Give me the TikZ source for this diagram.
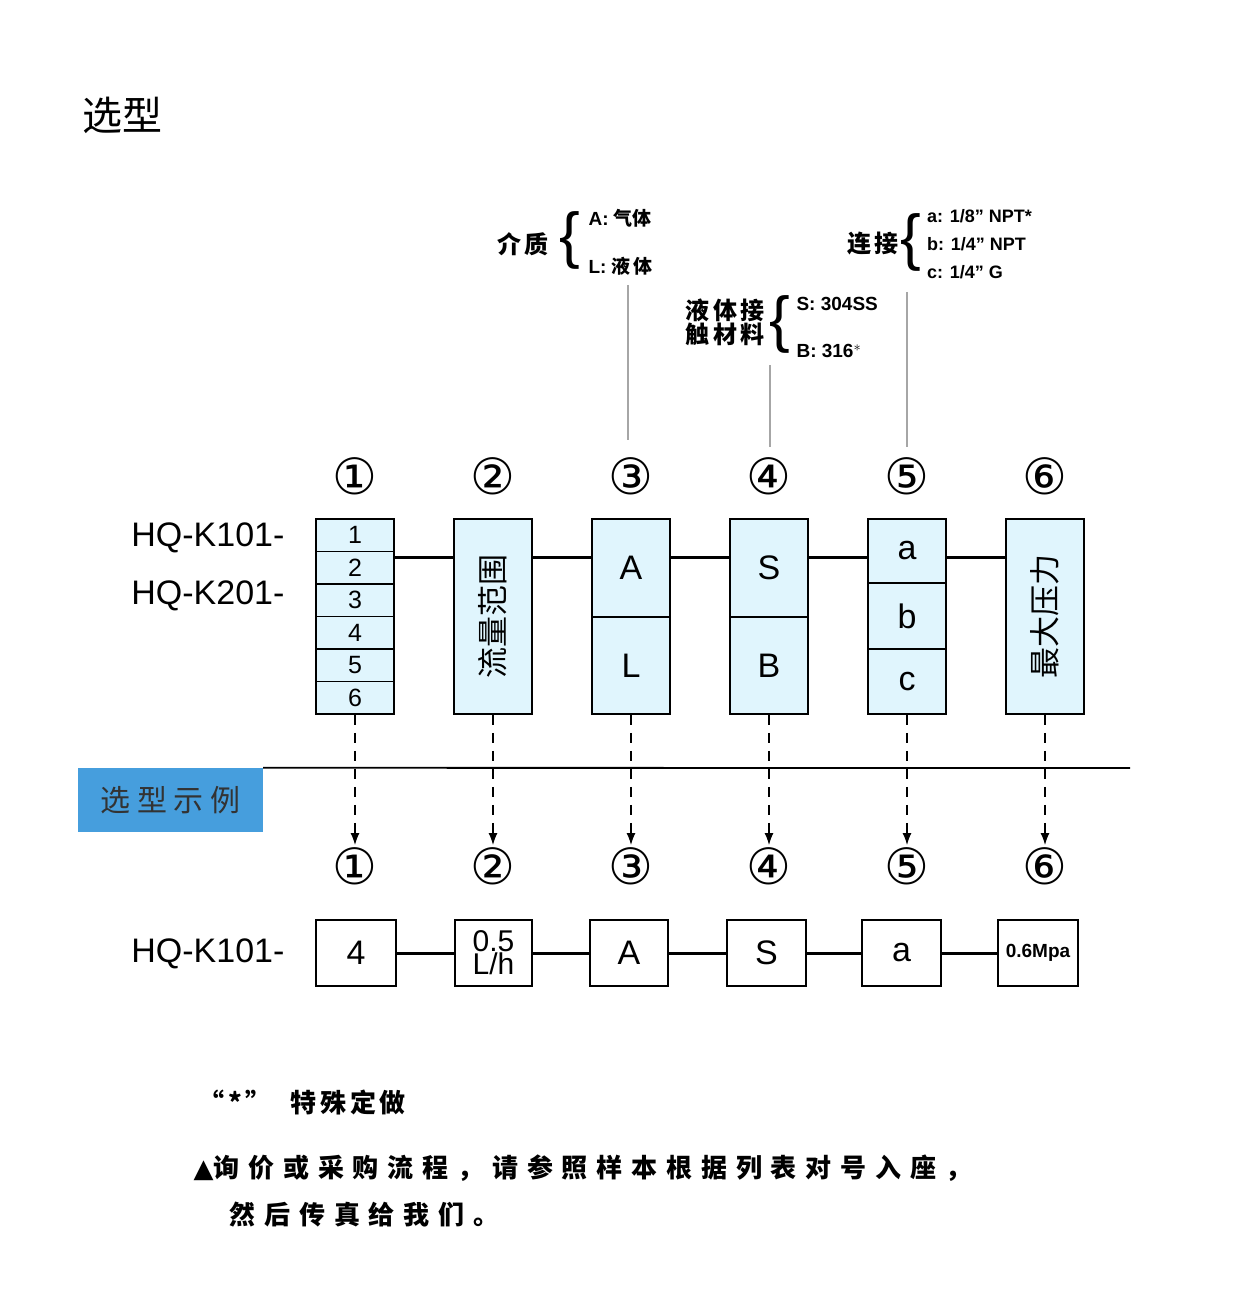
\documentclass[tikz,border=0pt]{standalone}
\usepackage{fontspec}
\setmainfont{Liberation Sans}
\newfontfamily\cjk{Noto Sans CJK SC}
\newfontfamily\cjks[LetterSpace=14]{Noto Sans CJK SC}
\newfontfamily\cjkw[LetterSpace=34]{Noto Sans CJK SC}
\newfontfamily\djv{DejaVu Sans}
\usetikzlibrary{arrows.meta}
\begin{document}
\begin{tikzpicture}[x=1pt,y=-1pt,
 bx/.style={draw,line width=1.6pt,fill=cyan!12!white},
 wb/.style={draw,line width=1.6pt,fill=white},
 cn/.style={font=\djv\fontsize{50}{50}\selectfont},
 lbl/.style={font=\fontsize{34}{34}\selectfont},
 sm/.style={font=\bfseries\fontsize{19}{19}\selectfont,anchor=west},
 ck/.style={font=\cjks\bfseries\fontsize{24}{24}\selectfont},
 gl/.style={draw=gray!70,line width=1.5pt},
 da/.style={dashed,dash pattern=on 10pt off 8pt,line width=1.2pt,-{Latex[length=12pt,width=9pt]}}]
\useasboundingbox (0,0) rectangle (1241,1313);
\node[font=\cjk\fontsize{40}{40}\selectfont] (title) at (122,115) {选型};
% top annotations
\node[ck,anchor=east] (med) at (552,244) {介质};
\node[font=\fontsize{62}{62}\selectfont] (br1) at (570,240) {\{};
\node[sm] (a1) at (585,218) {A: {\cjk 气体}};
\node[sm] (l1) at (585,266) {L: {\cjks 液体}};
\node[ck,anchor=east,align=center] (mat) at (768,322) {液体接\\触材料};
\node[font=\fontsize{62}{62}\selectfont] (br2) at (780,324) {\{};
\node[sm] (s1) at (793,304) {S: 304SS};
\node[sm] (b1) at (793,351) {B: 316$^{*}$};
\node[ck,anchor=east] (con) at (902,244) {连接};
\node[font=\fontsize{62}{62}\selectfont] (br3) at (911,242) {\{};
\node[sm,font=\bfseries\fontsize{18}{18}\selectfont,inner sep=1pt] (ca) at (926,216) {a: 1/8" NPT*};
\node[sm,font=\bfseries\fontsize{18}{18}\selectfont,inner sep=1pt] (cb) at (926,244) {b: 1/4" NPT};
\node[sm,font=\bfseries\fontsize{18}{18}\selectfont,inner sep=1pt] (cc) at (926,272) {c: 1/4" G};
\coordinate (g3) at (628,285); \coordinate (g4) at (770,365); \coordinate (g5) at (907,292);
\coordinate (h3) at (628,440); \coordinate (h4) at (770,447); \coordinate (h5) at (907,447);
\draw[gl] (g3)--(h3); \draw[gl] (g4)--(h4); \draw[gl] (g5)--(h5);
% circled numbers
\foreach \i/\x in {1/355,2/493,3/631,4/769,5/907,6/1045}{
 \node[cn] (t\i) at (\x,476) {\ifcase\i\or①\or②\or③\or④\or⑤\or⑥\fi};
 \node[cn] (u\i) at (\x,866) {\ifcase\i\or①\or②\or③\or④\or⑤\or⑥\fi};}
\node[font=\fontsize{34}{34}\selectfont,anchor=east] (m1) at (288,538) {HQ-K101-};
\node[font=\fontsize{34}{34}\selectfont,anchor=east] (m2) at (288,596) {HQ-K201-};
% connecting line
\draw[line width=3pt] (394,557) -- (1007,557);
% box1
\foreach \k in {0,...,5}{
 \node[bx,minimum width=78pt,minimum height=32.5pt,inner sep=0pt,font=\fontsize{25}{25}\selectfont] (r\k) at (355,{535.25+32.5*\k}) {\the\numexpr\k+1\relax};}
\node[bx,minimum width=78pt,minimum height=195pt] (b2) at (493,616.5) {};
\node[rotate=90,font=\cjk\fontsize{31}{31}\selectfont] at (b2) {流量范围};
\node[bx,minimum width=78pt,minimum height=98pt,lbl] (b3a) at (631,568) {A};
\node[bx,minimum width=78pt,minimum height=97pt,lbl] (b3b) at (631,665.5) {L};
\node[bx,minimum width=78pt,minimum height=98pt,lbl] (b4a) at (769,568) {S};
\node[bx,minimum width=78pt,minimum height=97pt,lbl] (b4b) at (769,665.5) {B};
\node[bx,minimum width=78pt,minimum height=64pt,lbl] (b5a) at (907,551) {a};
\node[bx,minimum width=78pt,minimum height=66pt,lbl] (b5b) at (907,616) {b};
\node[bx,minimum width=78pt,minimum height=65pt,lbl] (b5c) at (907,681.5) {c};
\node[bx,minimum width=78pt,minimum height=195pt] (b6) at (1045,616.5) {};
\node[rotate=90,font=\cjk\fontsize{31}{31}\selectfont] at (b6) {最大压力};
% dashed arrows
\draw[da] (r5.south) -- (355,845);
\draw[da] (b2.south) -- (493,845);
\draw[da] (b3b.south) -- (631,845);
\draw[da] (b4b.south) -- (769,845);
\draw[da] (b5c.south) -- (907,845);
\draw[da] (b6.south) -- (1045,845);
% separator
\node[fill=cyan!70!blue!75,minimum width=185pt,minimum height=64pt,inner sep=0pt,font=\cjk\fontsize{30}{30}\selectfont,text=black!80] (ex) at (170.5,800) {选 型 示 例};
\draw[line width=1.8pt] (ex.north east) -- (1130,768);
% example row
\node[font=\fontsize{34}{34}\selectfont,anchor=east] (m3) at (288,954) {HQ-K101-};
\draw[line width=3pt] (396,953) -- (998,953);
\node[wb,minimum width=80pt,minimum height=66pt,lbl] (e1) at (356,953) {4};
\node[wb,minimum width=77pt,minimum height=66pt,align=center,inner sep=0pt,font=\fontsize{30}{21}\selectfont] (e2) at (493.5,953) {0.5\\L/h};
\node[wb,minimum width=78pt,minimum height=66pt,lbl] (e3) at (629,953) {A};
\node[wb,minimum width=79pt,minimum height=66pt,lbl] (e4) at (766.5,953) {S};
\node[wb,minimum width=79pt,minimum height=66pt,lbl] (e5) at (901.5,953) {a};
\node[wb,minimum width=80pt,minimum height=66pt,inner sep=0pt,font=\bfseries\fontsize{19}{19}\selectfont] (e6) at (1038,953) {0.6Mpa};
% notes
\node[anchor=west,font=\cjks\bfseries\fontsize{26}{26}\selectfont] (n1) at (195,1102) {“*” \ 特殊定做};
\node[anchor=west,font=\cjkw\bfseries\fontsize{26}{26}\selectfont] (n2) at (190,1168) {{\djv ▲}询价或采购流程，请参照样本根据列表对号入座，};
\node[anchor=west,font=\cjkw\bfseries\fontsize{26}{26}\selectfont] (n3) at (226,1215) {然后传真给我们。};
\end{tikzpicture}
\end{document}
